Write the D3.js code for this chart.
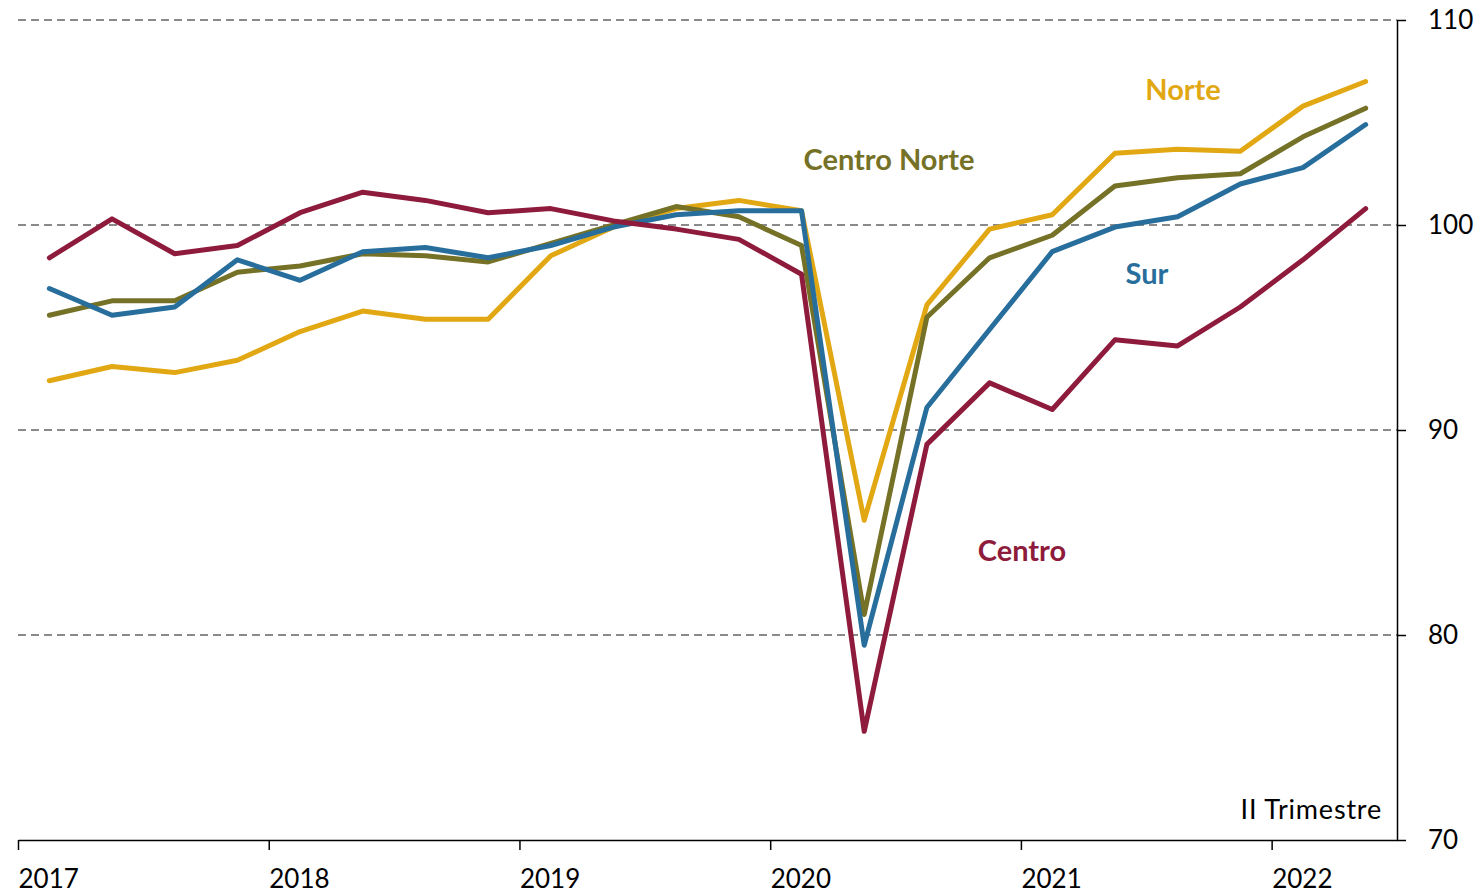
<!DOCTYPE html>
<html>
<head>
<meta charset="utf-8">
<script src="https://cdn.jsdelivr.net/npm/d3@7"></script>
<style>
  body { margin: 0; background: #fff; }
  text { font-family: Lato, "Open Sans", sans-serif; }
</style>
</head>
<body>
<svg id="myGraph"></svg>
<script>
var width = 1481;
var height = 895;

// trimestres 2017-I a 2022-II
var years = ["2017", "2018", "2019", "2020", "2021", "2022"];
var yTicks = [70, 80, 90, 100, 110];

var norte = [92.4, 93.1, 92.8, 93.4, 94.8, 95.8, 95.4, 95.4, 98.5, 99.9, 100.8, 101.2, 100.7,
             85.6, 96.1, 99.8, 100.5, 103.5, 103.7, 103.6, 105.8, 107.0];
var centroNorte = [95.6, 96.3, 96.3, 97.7, 98.0, 98.6, 98.5, 98.2, 99.1, 100.0, 100.9, 100.4, 99.0,
                   81.0, 95.5, 98.4, 99.5, 101.9, 102.3, 102.5, 104.3, 105.7];
var sur = [96.9, 95.6, 96.0, 98.3, 97.3, 98.7, 98.9, 98.4, 99.0, 99.9, 100.5, 100.7, 100.7,
           79.5, 91.1, 94.9, 98.7, 99.9, 100.4, 102.0, 102.8, 104.9];
var centro = [98.4, 100.3, 98.6, 99.0, 100.6, 101.6, 101.2, 100.6, 100.8, 100.2, 99.8, 99.3, 97.6,
              75.3, 89.3, 92.3, 91.0, 94.4, 94.1, 96.0, 98.3, 100.8];

var series = [
  {name: "Norte", values: norte, color: "#E2A813", lx: 1183, ly: 100},
  {name: "Centro Norte", values: centroNorte, color: "#757126", lx: 889, ly: 170},
  {name: "Sur", values: sur, color: "#286E9C", lx: 1147, ly: 284},
  {name: "Centro", values: centro, color: "#8E1B3B", lx: 1022, ly: 561}
];

var svg = d3.select("#myGraph")
    .attr("width", width)
    .attr("height", height);

var mLeft = 18, mRight = 1397, mTop = 20, mBottom = 840;

var x = d3.scaleLinear()
    .domain([0, norte.length])
    .range([mLeft, mRight]);

var y = d3.scaleLinear()
    .domain([70, 110])
    .range([mBottom, mTop]);

// lineas de referencia punteadas
svg.selectAll("line.grid")
    .data(yTicks.filter(function(d){ return d > 70; }))
    .enter().append("line")
    .attr("class", "grid")
    .attr("x1", mLeft)
    .attr("x2", mRight)
    .attr("y1", function(d){ return y(d); })
    .attr("y2", function(d){ return y(d); })
    .style("stroke", "#8a8a8a")
    .style("stroke-width", 2)
    .style("stroke-dasharray", "8,5");

// eje x
var xAxis = d3.axisBottom(x)
    .tickValues(years.map(function(d, i){ return i * 4; }))
    .tickFormat(function(d, i){ return years[i]; })
    .tickSize(10)
    .tickSizeOuter(0);

var gx = svg.append("g")
    .attr("transform", "translate(0," + mBottom + ")")
    .call(xAxis);
gx.select(".domain").style("stroke", "#000").style("stroke-width", 1.5);
gx.selectAll(".tick line").style("stroke", "#000").style("stroke-width", 1.5);
gx.selectAll(".tick text")
    .attr("text-anchor", "start")
    .attr("x", 0)
    .attr("y", 30)
    .style("font-size", "26px")
    .style("fill", "#000");

// eje y a la derecha
var yAxis = d3.axisRight(y)
    .tickValues(yTicks)
    .tickSize(9)
    .tickSizeOuter(0);

var gy = svg.append("g")
    .attr("transform", "translate(" + mRight + ",0)")
    .call(yAxis);
gy.select(".domain").style("stroke", "#000").style("stroke-width", 1.5);
gy.selectAll(".tick line").style("stroke", "#000").style("stroke-width", 1.5);
gy.selectAll(".tick text")
    .attr("x", 31)
    .style("font-size", "26px")
    .style("fill", "#000");

var line = d3.line()
    .x(function(d, i){ return x(i + 0.5); })
    .y(function(d){ return y(d); });

svg.selectAll("path.serie")
    .data(series)
    .enter().append("path")
    .attr("class", "serie")
    .attr("d", function(d){ return line(d.values); })
    .style("fill", "none")
    .style("stroke", function(d){ return d.color; })
    .style("stroke-width", 5)
    .style("stroke-linejoin", "round")
    .style("stroke-linecap", "round");

svg.selectAll("text.etiqueta")
    .data(series)
    .enter().append("text")
    .attr("class", "etiqueta")
    .attr("x", function(d){ return d.lx; })
    .attr("y", function(d){ return d.ly; })
    .attr("text-anchor", "middle")
    .style("font-size", "29px")
    .style("font-weight", "bold")
    .style("fill", function(d){ return d.color; })
    .text(function(d){ return d.name; });

svg.append("text")
    .attr("x", 1382)
    .attr("y", 819)
    .attr("text-anchor", "end")
    .style("font-size", "27px")
    .style("letter-spacing", "0.8px")
    .style("fill", "#000")
    .text("II Trimestre");
</script>
</body>
</html>
